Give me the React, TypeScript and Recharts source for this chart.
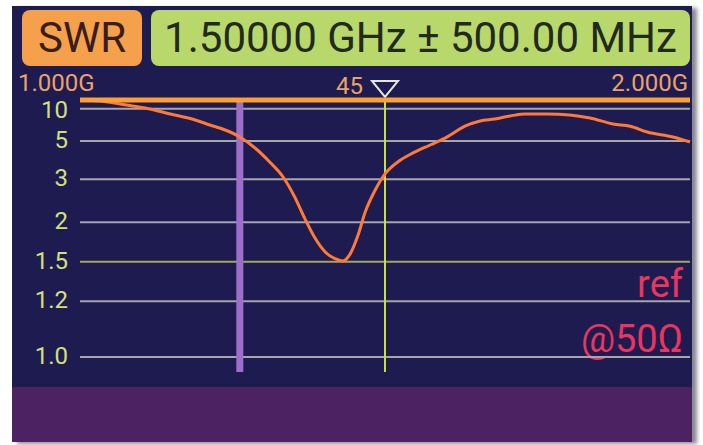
import {
  ComposedChart,
  Line,
  XAxis,
  YAxis,
  ReferenceLine,
} from 'recharts';

// sweep 1.0 - 2.0 GHz, SWR readings
const freqGHz = [
  1.0, 1.033, 1.066, 1.107, 1.148, 1.189, 1.213, 1.238, 1.262, 1.287, 1.311, 1.333,
  1.352, 1.369, 1.385, 1.402, 1.418, 1.43, 1.443, 1.456, 1.467, 1.484, 1.5, 1.521,
  1.546, 1.574, 1.602, 1.631, 1.656, 1.68, 1.705, 1.73, 1.766, 1.803, 1.836, 1.874,
  1.902, 1.93, 1.972, 2.0,
];
const swr = [
  13.4, 12.9, 11.6, 10.2, 8.65, 7.47, 6.7, 6.07, 5.35, 4.48, 3.69, 3.08,
  2.5, 2.05, 1.77, 1.6, 1.53, 1.507, 1.58, 1.81, 2.16, 2.68, 3.19, 3.69,
  4.17, 4.69, 5.35, 6.54, 7.31, 7.65, 8.22, 8.65, 8.65, 8.43, 7.83, 6.85,
  6.54, 5.84, 5.35, 4.92,
];
const swrTicks = [1.0, 1.2, 1.5, 2, 3, 5, 10];
const swrTickLabels = ['1.0', '1.2', '1.5', '2', '3', '5', '10'];
const freqTickLabels = ['1.000G', '2.000G'];
const markerFreq = 1.5;
const markerName = '45';
const barFreq = 1.262;

// the display's SWR axis is a compressed |gamma| scale
const yPos = (s: number) => Math.pow((s - 1) / (s + 1), 0.68);
const Y_MIN = -0.0527;
const Y_MAX = 0.903;

const data = freqGHz.map((f, i) => ({ f, y: yPos(swr[i]) }));

const FONT = 'Roboto, sans-serif';

function YTick(props: any) {
  const { x, y, index } = props;
  return (
    <text x={x} y={y} dy={index === swrTicks.length - 1 ? 1 : -1} textAnchor="end" dominantBaseline="central" fill="#d3e07a" fontSize={24} fontFamily={FONT}>
      {swrTickLabels[index]}
    </text>
  );
}

function FreqTick(props: any) {
  const { x, y, index } = props;
  const first = index === 0;
  return (
    <text x={first ? x - 62 : x - 2} y={y - 7} textAnchor={first ? 'start' : 'end'} fill="#eaa26a" fontSize={24} fontFamily={FONT}>
      {freqTickLabels[index]}
    </text>
  );
}

function MarkerLabel(props: any) {
  const { x, y } = props.viewBox;
  return (
    <g>
      <text x={x - 22} y={y - 6} textAnchor="end" fill="#eaa26a" fontSize={24} fontFamily={FONT}>
        {markerName}
      </text>
      <polygon points={`${x - 13},${y - 19} ${x + 13},${y - 19} ${x},${y - 3}`} fill="none" stroke="#e6e6d8" strokeWidth={2} />
    </g>
  );
}

export default function App() {
  return (
    <div style={{ position: 'absolute', left: 0, top: 0, width: 703, height: 445, background: '#fff', overflow: 'hidden' }}>
      <div style={{ position: 'absolute', left: 12, top: 6, width: 680, height: 436, background: '#1d1b4f', boxShadow: '5px 2px 4px #8a8a96' }} />
      <div style={{ position: 'absolute', left: 12, top: 387, width: 680, height: 55, background: '#4d2262' }} />
      <div style={{ position: 'absolute', left: 22, top: 10, width: 120, height: 56, borderRadius: 8, background: '#f5a04a', color: '#3a1d1d', fontFamily: FONT, fontSize: 42, lineHeight: '56px', textAlign: 'center' }}>
        SWR
      </div>
      <div style={{ position: 'absolute', left: 151, top: 10, width: 539, height: 56, borderRadius: 8, background: '#b8d86c', color: '#222a1e', fontFamily: FONT, fontSize: 42, lineHeight: '56px', textAlign: 'center' }}>
        1.50000 GHz ± 500.00 MHz
      </div>
      <div style={{ position: 'absolute', left: 0, top: 0 }}>
        <ComposedChart width={703} height={445} data={data} margin={{ top: 80, right: 13, bottom: 73, left: 10 }}>
          <XAxis
            xAxisId="top"
            orientation="top"
            dataKey="f"
            type="number"
            domain={[1, 2]}
            ticks={[1, 2]}
            height={20}
            axisLine={false}
            tickLine={false}
            tickSize={0}
            tick={<FreqTick />}
          />
          <YAxis
            type="number"
            domain={[Y_MIN, Y_MAX]}
            allowDataOverflow
            ticks={swrTicks.map(yPos)}
            width={70}
            axisLine={false}
            tickLine={false}
            tickSize={0}
            tickMargin={12}
            tick={<YTick />}
          />
          {swrTicks.map((t) => (
            <ReferenceLine key={t} xAxisId="top" y={yPos(t)} stroke={t === 1.5 ? '#a2a65e' : '#a6a6ac'} strokeWidth={2} />
          ))}
          <ReferenceLine xAxisId="top" x={barFreq} stroke="#9d6fca" strokeWidth={7} />
          <ReferenceLine xAxisId="top" x={markerFreq} stroke="#c6e03e" strokeWidth={2} label={<MarkerLabel />} />
          <Line xAxisId="top" dataKey="y" type="monotone" stroke="#ff7a36" strokeWidth={3} dot={false} isAnimationActive={false} />
          <ReferenceLine xAxisId="top" y={Y_MAX} stroke="#ffa032" strokeWidth={5} />
          <text x={683} y={297} textAnchor="end" fill="#e8365e" fontSize={38} fontFamily={FONT}>ref</text>
          <text x={683} y={352} textAnchor="end" fill="#e8365e" fontSize={38} fontFamily={FONT}>@50Ω</text>
        </ComposedChart>
      </div>
    </div>
  );
}
